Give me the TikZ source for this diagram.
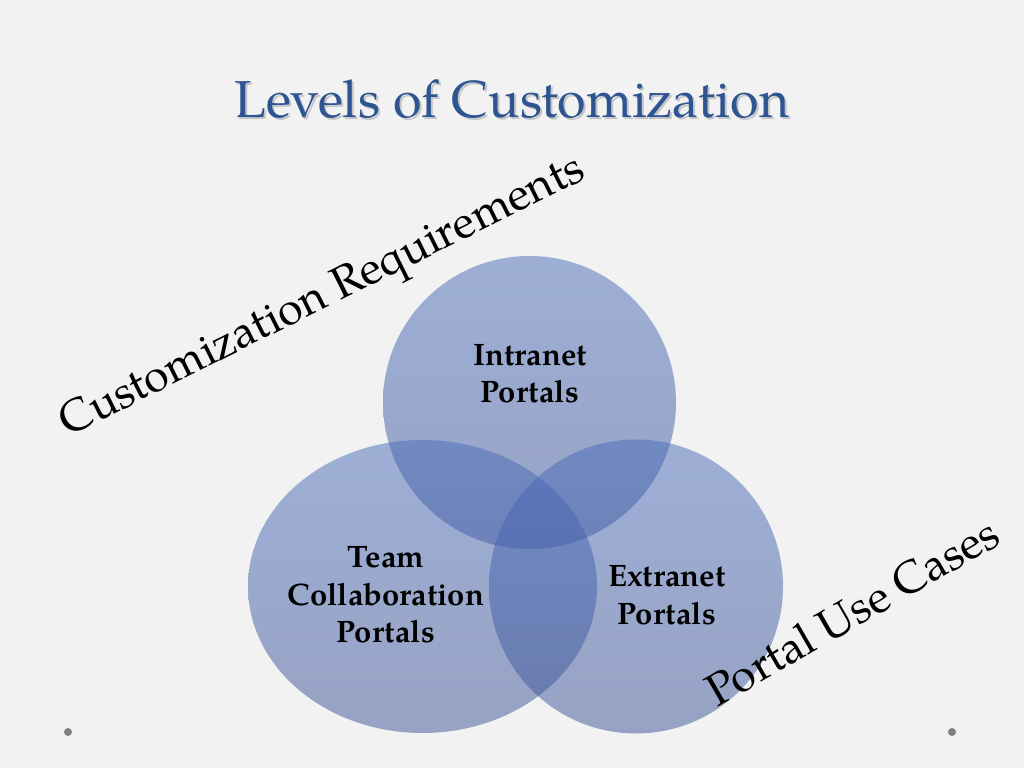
\documentclass[tikz,border=0pt]{standalone}
\usepackage{fontspec}
\setmainfont{TeX Gyre Pagella}
\definecolor{bgc}{RGB}{242,242,242}
\definecolor{titleblue}{RGB}{46,84,146}
\definecolor{ctop}{RGB}{74,108,187}
\definecolor{cbot}{RGB}{60,84,151}
\definecolor{dotgray}{RGB}{128,128,128}
\tikzset{
  venn/.style={top color=ctop, bottom color=cbot, fill opacity=0.5},
  vlabel/.style={align=center, text=black, font=\bfseries\fontsize{31}{37.5}\selectfont},
  sidelabel/.style={text=black, anchor=base, inner sep=0pt, font=\fontsize{45}{54}\selectfont},
  titletext/.style={anchor=base, inner sep=0pt, font=\fontsize{52}{62}\selectfont}
}
\begin{document}
\begin{tikzpicture}[x=1pt,y=1pt]
  \useasboundingbox (0,0) rectangle (1024,768);
  \fill[bgc] (0,0) rectangle (1024,768);
  % title with soft shadow
  \node[titletext, text=black, text opacity=0.18] (titleshadow) at (514,648) {Levels of Customization};
  \node[titletext, text=titleblue] (title) at (512,650) {Levels of Customization};
  % Venn shapes
  \shade[venn] (529.5,365.5) circle[radius=146.5];
  \shade[venn] (422.5,181.5) ellipse[x radius=174.5, y radius=146.5];
  \shade[venn] (636,181.5) circle[radius=147];
  % labels
  \node[vlabel] (intranet) at (530,394.5) {Intranet\\Portals};
  \node[vlabel] (team) at (386,173) {Team\\Collaboration\\Portals};
  \node[vlabel] (extranet) at (667,173) {Extranet\\Portals};
  % rotated axis texts
  \node[sidelabel, rotate=26.5] (custreq) at (328,461) {Customization Requirements};
  \node[sidelabel, rotate=30] (usecases) at (860,143) {Portal Use Cases};
  % slide dots
  \fill[dotgray] (68,36) circle[radius=4];
  \fill[dotgray] (952,36) circle[radius=4];
\end{tikzpicture}
\end{document}
